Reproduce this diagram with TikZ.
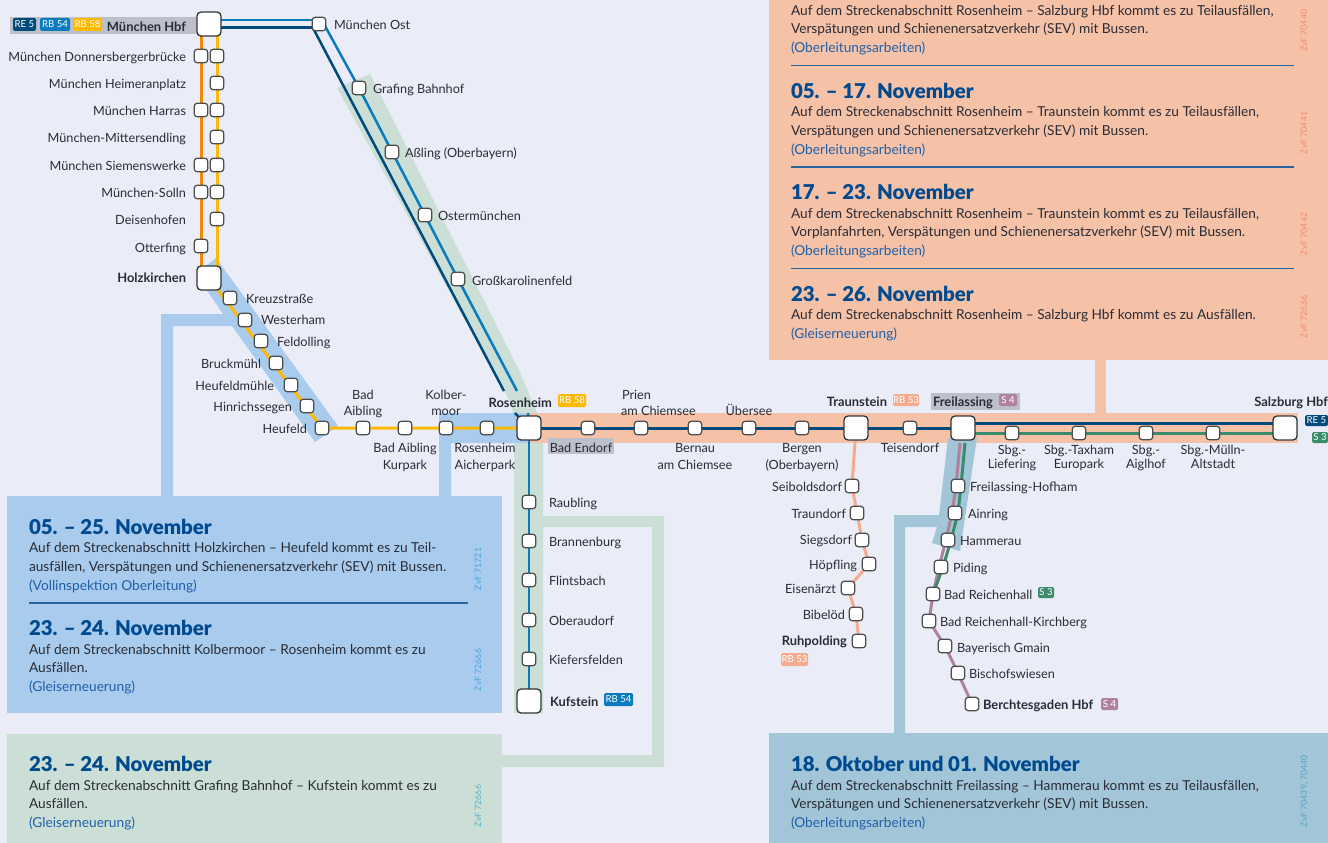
\documentclass[tikz,border=0pt]{standalone}
\usepackage{fontspec}
\setmainfont{Lato}
\newfontfamily\headfont{Lato Black}
\usetikzlibrary{calc}
\definecolor{bgc}{HTML}{EAEDF7}
\definecolor{bluebox}{HTML}{A8CBEE}
\definecolor{greenbox}{HTML}{CBDFD6}
\definecolor{salmonbox}{HTML}{F5C1A7}
\definecolor{steelbox}{HTML}{A2C6D7}
\definecolor{labelgray}{HTML}{BCC0CA}
\definecolor{lineorange}{HTML}{F08A00}
\definecolor{lineyellow}{HTML}{FFB900}
\definecolor{linelight}{HTML}{0A7BBF}
\definecolor{linedark}{HTML}{004B7C}
\definecolor{linemauve}{HTML}{B082A0}
\definecolor{linegreen}{HTML}{3A8C6A}
\definecolor{linesalmon}{HTML}{F6AB8E}
\definecolor{headblue}{HTML}{004A8F}
\definecolor{linkblue}{HTML}{2060A8}
\definecolor{bodytext}{HTML}{2A2C36}
\definecolor{zvfblue}{HTML}{4AA8E0}
\definecolor{zvfgreen}{HTML}{5AB4D0}
\definecolor{zvfsalmon}{HTML}{F09078}
\definecolor{zvfsteel}{HTML}{5AA5C5}
\tikzset{
  x=1pt,y=-1pt,
  stopbox/.style={draw=black!70,line width=1.2pt,fill=white,rounded corners=3pt,minimum size=13.5pt,inner sep=0pt,outer sep=0pt},
  hubbox/.style={draw=black!80,line width=1.3pt,fill=white,rounded corners=4pt,minimum size=24pt,inner sep=0pt,outer sep=0pt},
  trackline/.style={line width=3pt},
  thinline/.style={line width=2.5pt},
  lbl/.style={font=\fontsize{12.7}{16}\selectfont,text=bodytext,inner sep=0pt,outer sep=0pt,yshift=-1.5pt},
  le/.style={lbl,anchor=base east},
  lw/.style={lbl,anchor=base west},
  lc/.style={lbl,anchor=base},
  bf/.style={font=\fontsize{12.9}{16}\selectfont\bfseries},
  badge/.style={font=\fontsize{9.6}{10}\selectfont,text=white,inner sep=0pt,outer sep=0pt,rounded corners=1.5pt,anchor=north west},
  headline/.style={font=\fontsize{20.4}{22}\headfont\selectfont,text=headblue,anchor=base west,inner sep=0pt,outer sep=0pt},
  bodyline/.style={font=\fontsize{13.7}{15}\selectfont,text=bodytext,anchor=base west,inner sep=0pt,outer sep=0pt,yshift=-0.8pt},
  linkline/.style={bodyline,text=linkblue},
  zvfline/.style={font=\fontsize{8.8}{9}\selectfont,rotate=90,anchor=base west,inner sep=0pt,outer sep=0pt},
  rulerline/.style={line width=1.2pt,draw=headblue!85},
}
\newcommand{\badgebox}[7]{%
  \node[badge,fill=#6,minimum width=#4pt-#2pt,minimum height=#5pt-#3pt] (#1) at (#2,#3) {#7};}
\begin{document}
\begin{tikzpicture}
\path[use as bounding box,fill=bgc] (0,0) rectangle (1328,843);
% --- boxes and highlight bands
\fill[bluebox] (7,496) rectangle (502,713);
\fill[greenbox] (7,734) rectangle (502,843);
\fill[salmonbox] (769,0) rectangle (1328,360);
\fill[steelbox] (769,733) rectangle (1328,843);
\fill[greenbox] (337,88) -- (370,74) -- (519,370) -- (537,413) -- (543,428) -- (543,516) -- (664,516) -- (664,767) -- (502,767) -- (502,755) -- (652,755) -- (652,527) -- (543,527) -- (543,713) -- (514,713) -- (514,428) -- (512,405) -- cycle;
\fill[bluebox] (196,274) -- (216,258) -- (338,426) -- (315,442) -- (232,326)-- (173,326) -- (173,496) -- (161,496) -- (161,314) -- (223,314) -- cycle;
\fill[bluebox] (439,496) -- (439,413) -- (530,413) -- (530,443) -- (451,443) -- (451,496) -- cycle;
\fill[salmonbox] (530,413) rectangle (1298,443);
\fill[salmonbox] (1095,360) rectangle (1106,413);
\fill[steelbox] (948,438) -- (977,438) -- (960,551) -- (932,543) -- (937,527) -- (905,527) -- (905,733) -- (894,733) -- (894,515) -- (939,515) -- cycle;
\fill[labelgray] (10,17) rectangle (197,34);
\fill[labelgray] (548,438) rectangle (614,454);
\fill[labelgray] (931,393) rectangle (1020,410);
% --- coordinates for tracks
\coordinate (hbf) at (209,24);
\coordinate (ost) at (319,24);
\coordinate (holz) at (209,278);
\coordinate (rosen) at (529,428);
\coordinate (traun) at (856,428);
\coordinate (frei) at (963,428);
\coordinate (salz) at (1285,428);
\coordinate (kuf) at (529,701);
\coordinate (darkgapA) at (504,391);
\coordinate (darkgapB) at (515,413);
\coordinate (lightgapA) at (517,391);
\coordinate (lightgapB) at (528,413);
\coordinate (darkstart) at (313,28);
\coordinate (lightstart) at (325,26);
\coordinate (graf) at (359,88);
\coordinate (assl) at (392,152);
\coordinate (ostm) at (425,215);
\coordinate (gross) at (458,279);
\coordinate (lief) at (1012,433);
\coordinate (muell) at (1213,433);
\coordinate (ol5) at (201,246);
\coordinate (bgd) at (972,704);
\coordinate (kirch) at (929,621);
\coordinate (gmain) at (945,646);
\coordinate (bisch) at (958,673);
\coordinate (brh) at (933,594);
\coordinate (heuf) at (322,428);
\coordinate (hfm) at (291,385);
\coordinate (m1) at (960,443);
\coordinate (m2) at (956,486);
\coordinate (m3) at (952,513);
\coordinate (m4) at (946,540);
\coordinate (m5) at (939,567);
\coordinate (g1) at (965,443);
\coordinate (g2) at (961,486);
\coordinate (g3) at (958,513);
\coordinate (g4) at (951,540);
\coordinate (g5) at (943,567);
\coordinate (seib) at (852,486);
\coordinate (traund) at (857,513);
\coordinate (sieg) at (862,540);
\coordinate (hoepf) at (869,564);
\coordinate (eisen) at (848,588);
\coordinate (bibel) at (856,614);
\coordinate (ruhp) at (859,641);
% --- tracks
\draw[trackline,lineorange] ([xshift=-8pt]hbf) -- ([xshift=-8pt]holz);
\draw[trackline,lineyellow] ([xshift=8pt]hbf) -- ([xshift=8pt]holz);
\draw[trackline,lineyellow] (holz) -- (heuf) -- (rosen);
\draw[thinline,linelight] ([yshift=4pt]hbf) -- ([yshift=4pt]ost);
\draw[trackline,linedark] ([yshift=-4pt]hbf) -- ([yshift=-4pt]ost);
\draw[thinline,linelight] (lightstart) -- (graf) -- (gross) -- (lightgapA);
\draw[thinline,linedark] (darkstart) -- (darkgapA);
\draw[thinline,linedark] (darkgapB) -- (rosen);
\draw[thinline,linelight] (lightgapB) -- (rosen);
\draw[thinline,linelight] (rosen) -- (kuf);
\draw[trackline,linedark] (rosen) -- (frei);
\draw[trackline,linedark] ([yshift=5pt]frei) -- ([yshift=5pt]salz);
\draw[trackline,linegreen] ([yshift=-5pt]frei) -- ([yshift=-5pt]salz);
\draw[trackline,linesalmon,line join=round] (traun) -- (seib) -- (traund) -- (sieg) -- (hoepf) -- (eisen) -- (bibel) -- (ruhp);
\draw[trackline,linemauve,line join=round] (m1) -- (m2) -- (m3) -- (m4) -- (m5) -- (brh) -- (kirch) -- (gmain) -- (bisch) -- (bgd);
\draw[trackline,linegreen,line join=round] (g1) -- (g2) -- (g3) -- (g4) -- (g5) -- (brh);
% --- stations
\node[hubbox] (nhbf) at (hbf) {};
\node[stopbox] (nost) at (ost) {};
\node[stopbox] (ol1) at (201,56) {};
\node[stopbox] (ol2) at (201,110) {};
\node[stopbox] (ol3) at (201,165) {};
\node[stopbox] (ol4) at (201,192) {};
\node[stopbox] (nol5) at (ol5) {};
\node[stopbox] (yl1) at (217,56) {};
\node[stopbox] (yl2) at (217,83) {};
\node[stopbox] (yl3) at (217,110) {};
\node[stopbox] (yl4) at (217,137) {};
\node[stopbox] (yl5) at (217,165) {};
\node[stopbox] (yl6) at (217,192) {};
\node[stopbox] (yl7) at (217,219) {};
\node[hubbox] (nholz) at (holz) {};
\node[stopbox] (kreuz) at (230,298) {};
\node[stopbox] (wester) at (245,320) {};
\node[stopbox] (feld) at (261,341) {};
\node[stopbox] (bruck) at (276,363) {};
\node[stopbox] (nhfm) at (hfm) {};
\node[stopbox] (hinr) at (307,406) {};
\node[stopbox] (nheuf) at (heuf) {};
\node[stopbox] (aibl) at (363,428) {};
\node[stopbox] (kurp) at (405,428) {};
\node[stopbox] (kolb) at (446,428) {};
\node[stopbox] (aich) at (487,428) {};
\node[hubbox] (nrosen) at (rosen) {};
\node[stopbox] (endorf) at (588,428) {};
\node[stopbox] (prien) at (641,428) {};
\node[stopbox] (bernau) at (695,428) {};
\node[stopbox] (ueber) at (749,428) {};
\node[stopbox] (bergen) at (802,428) {};
\node[hubbox] (ntraun) at (traun) {};
\node[stopbox] (teis) at (910,428) {};
\node[hubbox] (nfrei) at (frei) {};
\node[hubbox] (nsalz) at (salz) {};
\node[stopbox] (nlief) at (lief) {};
\node[stopbox] (tax) at (1079,433) {};
\node[stopbox] (aigl) at (1146,433) {};
\node[stopbox] (nmuell) at (muell) {};
\node[stopbox] (raub) at (529,502) {};
\node[stopbox] (brann) at (529,541) {};
\node[stopbox] (flint) at (529,580) {};
\node[stopbox] (ober) at (529,620) {};
\node[stopbox] (kief) at (529,659) {};
\node[hubbox] (nkuf) at (kuf) {};
\node[stopbox] (ngraf) at (graf) {};
\node[stopbox] (nassl) at (assl) {};
\node[stopbox] (nostm) at (ostm) {};
\node[stopbox] (ngross) at (gross) {};
\node[stopbox] (nseib) at (seib) {};
\node[stopbox] (ntraund) at (traund) {};
\node[stopbox] (nsieg) at (sieg) {};
\node[stopbox] (nhoepf) at (hoepf) {};
\node[stopbox] (neisen) at (eisen) {};
\node[stopbox] (nbibel) at (bibel) {};
\node[stopbox] (nruhp) at (ruhp) {};
\node[stopbox] (hofh) at (958,486) {};
\node[stopbox] (ainr) at (955,513) {};
\node[stopbox] (hamm) at (948,540) {};
\node[stopbox] (pid) at (941,567) {};
\node[stopbox] (nbrh) at (brh) {};
\node[stopbox] (nkirch) at (kirch) {};
\node[stopbox] (ngmain) at (gmain) {};
\node[stopbox] (nbisch) at (bisch) {};
\node[stopbox] (nbgd) at (bgd) {};
% --- station labels
\node[le,bf] (l1) at (186,30) {München Hbf};
\node[le] (l2) at (186,60) {München Donnersbergerbrücke};
\node[le] (l3) at (186,87) {München Heimeranplatz};
\node[le] (l4) at (186,114) {München Harras};
\node[le] (l5) at (186,141) {München-Mittersendling};
\node[le] (l6) at (186,169) {München Siemenswerke};
\node[le] (l7) at (186,196) {München-Solln};
\node[le] (l8) at (186,223) {Deisenhofen};
\node[le] (l9) at (186,251) {Otterfing};
\node[le,bf] (l10) at (186,281) {Holzkirchen};
\node[lw] (l11) at (334,28) {München Ost};
\node[lw] (l12) at (373,92) {Grafing Bahnhof};
\node[lw] (l13) at (405,156) {Aßling (Oberbayern)};
\node[lw] (l14) at (438,219) {Ostermünchen};
\node[lw] (l15) at (472,284) {Großkarolinenfeld};
\node[lw] (l16) at (246,302) {Kreuzstraße};
\node[lw] (l17) at (261,323) {Westerham};
\node[lw] (l18) at (277,345) {Feldolling};
\node[le] (l19) at (261,367) {Bruckmühl};
\node[le] (l20) at (274,389) {Heufeldmühle};
\node[le] (l21) at (292,410) {Hinrichssegen};
\node[le] (l22) at (307,432) {Heufeld};
\node[lc] (l23a) at (363,398) {Bad};
\node[lc] (l23b) at (363,414) {Aibling};
\node[lc] (l24a) at (405,451) {Bad Aibling};
\node[lc] (l24b) at (405,468) {Kurpark};
\node[lc] (l25a) at (446,398) {Kolber-};
\node[lc] (l25b) at (446,414) {moor};
\node[lc] (l26a) at (485,451) {Rosenheim};
\node[lc] (l26b) at (485,468) {Aicherpark};
\node[le,bf] (l27) at (552,406) {Rosenheim};
\node[lc] (l28) at (581,451) {Bad Endorf};
\node[lw] (l29a) at (622,398) {Prien};
\node[lw] (l29b) at (621,414) {am Chiemsee};
\node[lc] (l30a) at (695,451) {Bernau};
\node[lc] (l30b) at (695,468) {am Chiemsee};
\node[lc] (l31) at (749,414) {Übersee};
\node[lc] (l32a) at (802,451) {Bergen};
\node[lc] (l32b) at (802,468) {(Oberbayern)};
\node[le,bf] (l33) at (887,405) {Traunstein};
\node[lc] (l34) at (910,451) {Teisendorf};
\node[lw,bf] (l35) at (933,405) {Freilassing};
\node[le,bf] (l36) at (1328,405) {Salzburg Hbf};
\node[lc] (l37a) at (1012,453) {Sbg.-};
\node[lc] (l37b) at (1012,467) {Liefering};
\node[lc] (l38a) at (1079,453) {Sbg.-Taxham};
\node[lc] (l38b) at (1079,467) {Europark};
\node[lc] (l39a) at (1146,453) {Sbg.-};
\node[lc] (l39b) at (1146,467) {Aiglhof};
\node[lc] (l40a) at (1213,453) {Sbg.-Mülln-};
\node[lc] (l40b) at (1213,467) {Altstadt};
\node[lw] (l41) at (970,490) {Freilassing-Hofham};
\node[lw] (l42) at (968,517) {Ainring};
\node[lw] (l43) at (960,544) {Hammerau};
\node[lw] (l44) at (953,571) {Piding};
\node[lw] (l45) at (944,598) {Bad Reichenhall};
\node[lw] (l46) at (940,625) {Bad Reichenhall-Kirchberg};
\node[lw] (l47) at (957,651) {Bayerisch Gmain};
\node[lw] (l48) at (969,677) {Bischofswiesen};
\node[lw,bf] (l49) at (983,708) {Berchtesgaden Hbf};
\node[le] (l50) at (842,490) {Seiboldsdorf};
\node[le] (l51) at (846,517) {Traundorf};
\node[le] (l52) at (852,543) {Siegsdorf};
\node[le] (l53) at (857,568) {Höpfling};
\node[le] (l54) at (836,592) {Eisenärzt};
\node[le] (l55) at (845,618) {Bibelöd};
\node[le,bf] (l56) at (847,644) {Ruhpolding};
\node[lw] (l57) at (549,506) {Raubling};
\node[lw] (l58) at (549,545) {Brannenburg};
\node[lw] (l59) at (549,584) {Flintsbach};
\node[lw] (l60) at (549,624) {Oberaudorf};
\node[lw] (l61) at (549,663) {Kiefersfelden};
\node[lw,bf] (l62) at (550,705) {Kufstein};
% --- badges
\badgebox{b1}{13}{18}{36}{31}{linedark}{RE 5}
\badgebox{b2}{40}{18}{70}{31}{linelight}{RB 54}
\badgebox{b3}{73}{18}{102}{31}{lineyellow}{RB 58}
\badgebox{b4}{558}{394}{586}{407}{lineyellow}{RB 58}
\badgebox{b5}{893}{394}{919}{406}{linesalmon}{RB 53}
\badgebox{b6}{999}{394}{1017}{406}{linemauve}{S 4}
\badgebox{b7}{1305}{415}{1328}{426}{linedark}{RE 5}
\badgebox{b8}{1312}{432}{1328}{443}{linegreen}{S 3}
\badgebox{b9}{1038}{587}{1054}{598}{linegreen}{S 3}
\badgebox{b10}{1101}{698}{1118}{710}{linemauve}{S 4}
\badgebox{b11}{781}{653}{808}{666}{linesalmon}{RB 53}
\badgebox{b12}{604}{693}{633}{706}{linelight}{RB 54}
% --- salmon box
\node[bodyline] (s1a) at (791,15) {Auf dem Streckenabschnitt Rosenheim – Salzburg Hbf kommt es zu Teilausfällen,};
\node[bodyline] (s1b) at (791,33) {Verspätungen und Schienenersatzverkehr (SEV) mit Bussen.};
\node[linkline] (s1c) at (791,52) {(Oberleitungsarbeiten)};
\coordinate (r1a) at (791,65.5); \coordinate (r1b) at (1294,65.5);
\draw[rulerline] (r1a) -- (r1b);
\node[headline] (s2h) at (791,98) {05. – 17. November};
\node[bodyline] (s2a) at (791,116) {Auf dem Streckenabschnitt Rosenheim – Traunstein kommt es zu Teilausfällen,};
\node[bodyline] (s2b) at (791,135) {Verspätungen und Schienenersatzverkehr (SEV) mit Bussen.};
\node[linkline] (s2c) at (791,154) {(Oberleitungsarbeiten)};
\coordinate (r2a) at (791,167); \coordinate (r2b) at (1294,167);
\draw[rulerline] (r2a) -- (r2b);
\node[headline] (s3h) at (791,199) {17. – 23. November};
\node[bodyline] (s3a) at (791,218) {Auf dem Streckenabschnitt Rosenheim – Traunstein kommt es zu Teilausfällen,};
\node[bodyline] (s3b) at (791,236) {Vorplanfahrten, Verspätungen und Schienenersatzverkehr (SEV) mit Bussen.};
\node[linkline] (s3c) at (791,255) {(Oberleitungsarbeiten)};
\coordinate (r3a) at (791,268.5); \coordinate (r3b) at (1294,268.5);
\draw[rulerline] (r3a) -- (r3b);
\node[headline] (s4h) at (791,301) {23. – 26. November};
\node[bodyline] (s4a) at (791,319) {Auf dem Streckenabschnitt Rosenheim – Salzburg Hbf kommt es zu Ausfällen.};
\node[linkline] (s4c) at (791,338) {(Gleiserneuerung)};
\node[zvfline,text=zvfsalmon] (z1) at (1307,52) {ZvF 70440};
\node[zvfline,text=zvfsalmon] (z2) at (1307,154) {ZvF 70441};
\node[zvfline,text=zvfsalmon] (z3) at (1307,255) {ZvF 70442};
\node[zvfline,text=zvfsalmon] (z4) at (1307,338) {ZvF 72666};
% --- blue box
\node[headline] (a1h) at (29,534) {05. – 25. November};
\node[bodyline] (a1a) at (29,552) {Auf dem Streckenabschnitt Holzkirchen – Heufeld kommt es zu Teil-};
\node[bodyline] (a1b) at (29,571) {ausfällen, Verspätungen und Schienenersatzverkehr (SEV) mit Bussen.};
\node[linkline] (a1c) at (29,590) {(Vollinspektion Oberleitung)};
\coordinate (r4a) at (29,603); \coordinate (r4b) at (468,603);
\draw[rulerline] (r4a) -- (r4b);
\node[headline] (a2h) at (29,635) {23. – 24. November};
\node[bodyline] (a2a) at (29,654) {Auf dem Streckenabschnitt Kolbermoor – Rosenheim kommt es zu};
\node[bodyline] (a2b) at (29,672) {Ausfällen.};
\node[linkline] (a2c) at (29,691) {(Gleiserneuerung)};
\node[zvfline,text=zvfblue] (z5) at (481,590) {ZvF 71721};
\node[zvfline,text=zvfblue] (z6) at (481,691) {ZvF 72666};
% --- green box
\node[headline] (g1h) at (29,771) {23. – 24. November};
\node[bodyline] (g1a) at (29,790) {Auf dem Streckenabschnitt Grafing Bahnhof – Kufstein kommt es zu};
\node[bodyline] (g1b) at (29,808) {Ausfällen.};
\node[linkline] (g1c) at (29,827) {(Gleiserneuerung)};
\node[zvfline,text=zvfgreen] (z7) at (481,827) {ZvF 72666};
% --- steel box
\node[headline] (t1h) at (791,771) {18. Oktober und 01. November};
\node[bodyline] (t1a) at (791,790) {Auf dem Streckenabschnitt Freilassing – Hammerau kommt es zu Teilausfällen,};
\node[bodyline] (t1b) at (791,808) {Verspätungen und Schienenersatzverkehr (SEV) mit Bussen.};
\node[linkline] (t1c) at (791,827) {(Oberleitungsarbeiten)};
\node[zvfline,text=zvfsteel] (z8) at (1307,827) {ZvF 70439, 70440};
\end{tikzpicture}
\end{document}
